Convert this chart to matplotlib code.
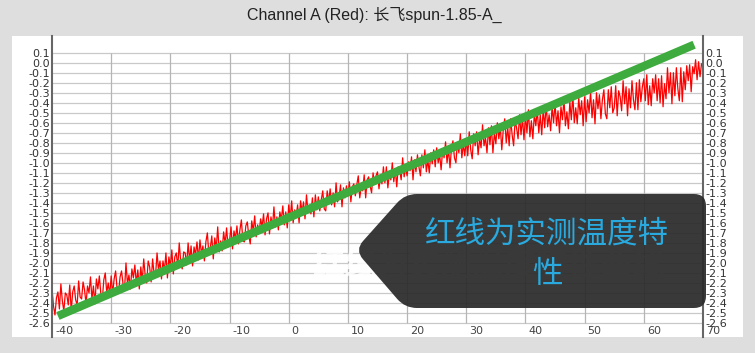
import numpy as np
import matplotlib
matplotlib.use('Agg')
import matplotlib.pyplot as plt
from matplotlib.path import Path
from matplotlib.patches import PathPatch, Rectangle

# chart texts
title_text = "Channel A (Red): 长飞spun-1.85-A_"
callout_text = "红线为实测温度特\n性"
watermark_text = "红线为实测温度特性曲线"

# axis ticks
x_ticks = [-40, -30, -20, -10, 0, 10, 20, 30, 40, 50, 60, 70]
y_ticks = np.round(np.arange(-2.6, 0.15, 0.1), 1)

# measured curve (red), read every 0.25 degree from -40 to 70
red_temp = np.arange(-40, 70.125, 0.25)
red_value = [
    -2.26, -2.43, -2.52, -2.35, -2.29, -2.46, -2.21, -2.38, -2.48, -2.30,
    -2.32, -2.42, -2.22, -2.48, -2.29, -2.23, -2.37, -2.42, -2.18, -2.34,
    -2.36, -2.19, -2.27, -2.41, -2.23, -2.30, -2.14, -2.36, -2.23, -2.41,
    -2.16, -2.26, -2.13, -2.31, -2.37, -2.17, -2.10, -2.30, -2.20, -2.32,
    -2.13, -2.31, -2.16, -2.08, -2.26, -2.30, -2.14, -2.08, -2.21, -2.27,
    -2.00, -2.21, -2.12, -2.26, -2.06, -2.15, -2.02, -2.21, -2.07, -2.26,
    -2.04, -2.18, -1.96, -2.13, -2.20, -1.98, -2.04, -2.19, -1.96, -2.11,
    -2.12, -1.90, -2.07, -1.98, -2.16, -1.98, -2.08, -1.90, -2.15, -1.94,
    -2.04, -1.87, -2.11, -1.94, -1.90, -2.04, -1.80, -1.99, -2.06, -1.89,
    -1.90, -2.02, -1.80, -1.98, -1.83, -2.03, -1.84, -1.92, -1.79, -1.97,
    -1.77, -1.91, -1.83, -1.98, -1.79, -1.70, -1.91, -1.85, -1.73, -1.96,
    -1.75, -1.86, -1.64, -1.89, -1.78, -1.88, -1.69, -1.81, -1.65, -1.84,
    -1.78, -1.64, -1.86, -1.68, -1.76, -1.63, -1.81, -1.67, -1.57, -1.78,
    -1.79, -1.63, -1.59, -1.73, -1.81, -1.58, -1.68, -1.53, -1.74, -1.62,
    -1.70, -1.56, -1.64, -1.51, -1.72, -1.56, -1.50, -1.71, -1.54, -1.65,
    -1.44, -1.64, -1.54, -1.67, -1.49, -1.57, -1.43, -1.62, -1.49, -1.65,
    -1.42, -1.56, -1.38, -1.60, -1.47, -1.54, -1.42, -1.60, -1.38, -1.49,
    -1.39, -1.56, -1.32, -1.49, -1.43, -1.51, -1.35, -1.54, -1.32, -1.47,
    -1.34, -1.48, -1.37, -1.28, -1.46, -1.48, -1.28, -1.39, -1.26, -1.42,
    -1.30, -1.44, -1.20, -1.39, -1.35, -1.22, -1.44, -1.25, -1.35, -1.23,
    -1.33, -1.19, -1.39, -1.24, -1.21, -1.33, -1.22, -1.13, -1.35, -1.24,
    -1.28, -1.12, -1.35, -1.17, -1.14, -1.23, -1.30, -1.10, -1.21, -1.13,
    -1.09, -1.26, -1.13, -1.21, -1.04, -1.20, -1.04, -1.25, -1.11, -1.17,
    -1.00, -1.19, -1.06, -1.24, -1.04, -1.07, -1.17, -0.95, -1.14, -1.04,
    -1.13, -0.99, -1.08, -0.94, -1.17, -0.97, -1.09, -0.92, -1.04, -1.13,
    -0.92, -1.05, -0.87, -1.09, -0.97, -1.10, -0.90, -1.01, -0.87, -1.04,
    -0.85, -1.00, -0.92, -1.07, -0.87, -0.95, -0.79, -1.00, -0.86, -1.05,
    -0.85, -0.78, -0.95, -1.00, -0.80, -0.90, -0.71, -0.95, -0.81, -0.93,
    -0.76, -0.93, -0.69, -0.87, -0.96, -0.71, -0.83, -0.69, -0.92, -0.76,
    -0.85, -0.62, -0.83, -0.75, -0.90, -0.65, -0.82, -0.63, -0.90, -0.70,
    -0.81, -0.60, -0.76, -0.64, -0.87, -0.67, -0.56, -0.80, -0.64, -0.83,
    -0.56, -0.72, -0.83, -0.58, -0.65, -0.76, -0.52, -0.72, -0.55, -0.77,
    -0.52, -0.70, -0.47, -0.74, -0.58, -0.76, -0.51, -0.63, -0.47, -0.70,
    -0.52, -0.72, -0.46, -0.65, -0.42, -0.64, -0.52, -0.68, -0.44, -0.60,
    -0.40, -0.63, -0.48, -0.70, -0.44, -0.57, -0.36, -0.63, -0.49, -0.66,
    -0.39, -0.57, -0.32, -0.60, -0.45, -0.61, -0.35, -0.52, -0.38, -0.63,
    -0.34, -0.59, -0.37, -0.50, -0.29, -0.55, -0.37, -0.61, -0.30, -0.46,
    -0.32, -0.56, -0.37, -0.27, -0.51, -0.56, -0.27, -0.45, -0.24, -0.50,
    -0.45, -0.23, -0.53, -0.28, -0.34, -0.48, -0.18, -0.41, -0.24, -0.53,
    -0.26, -0.45, -0.18, -0.37, -0.47, -0.20, -0.47, -0.17, -0.39, -0.24,
    -0.16, -0.38, -0.12, -0.42, -0.23, -0.43, -0.16, -0.30, -0.12, -0.38,
    -0.16, -0.40, -0.13, -0.44, -0.21, -0.36, -0.05, -0.30, -0.10, -0.41,
    -0.10, -0.33, -0.05, -0.26, -0.38, -0.05, -0.39, -0.09, -0.27, -0.03,
    -0.18, -0.02, -0.29, -0.04, -0.11, 0.03, -0.17, 0.01, -0.14, -0.01,
    -0.04,
]

# reference line (green)
fit_temp = [-39, 68.5]
fit_value = [-2.53, 0.18]

W, H = 755, 353


def rounded_polygon(pts, r):
    # pts in pixel coords (y down), returns Path in figure fraction
    verts, codes = [], []
    n = len(pts)
    for i in range(n):
        p0 = np.array(pts[i - 1], float)
        p1 = np.array(pts[i], float)
        p2 = np.array(pts[(i + 1) % n], float)
        d0 = (p0 - p1) / np.linalg.norm(p0 - p1)
        d2 = (p2 - p1) / np.linalg.norm(p2 - p1)
        verts.append(p1 + d0 * r)
        codes.append(Path.MOVETO if i == 0 else Path.LINETO)
        verts += [p1, p1 + d2 * r]
        codes += [Path.CURVE3, Path.CURVE3]
    verts.append(verts[0])
    codes.append(Path.CLOSEPOLY)
    verts = [(v[0] / W, 1 - v[1] / H) for v in verts]
    return Path(verts, codes)


fig = plt.figure(figsize=(W / 100, H / 100), dpi=100)
fig.patch.set_facecolor('#dedede')

# white panel behind the plot
fig.add_artist(Rectangle((12 / W, 1 - 337 / H), (743 - 12) / W, (337 - 36) / H,
                         transform=fig.transFigure, facecolor='white',
                         edgecolor='none', zorder=-1))

ax = fig.add_axes([52 / W, 1 - 337 / H, (703 - 52) / W, (337 - 36) / H])
ax.set_xlim(-40, 70)
ax.set_ylim(-2.74, 0.267)
ax.set_facecolor('white')

# grid
ax.hlines(y_ticks, -40, 70, color='#c9c9c9', linewidth=0.9, zorder=1)
ax.vlines(x_ticks[1:-1], y_ticks.min(), y_ticks.max(), color='#b5b5b5',
          linewidth=0.9, zorder=1)

ax.plot(red_temp, red_value, color='#ff0000', linewidth=0.9, zorder=2)
ax.plot(fit_temp, fit_value, color='#3dab3d', linewidth=6, zorder=3,
        solid_capstyle='butt')

for s in ['top', 'bottom']:
    ax.spines[s].set_visible(False)
for s in ['left', 'right']:
    ax.spines[s].set_color('#666666')
    ax.spines[s].set_linewidth(1.5)

ax.set_xticks([])
ax.set_yticks(y_ticks)
ax.set_yticklabels([f"{v:.1f}" for v in y_ticks])
ax.tick_params(axis='y', left=False, right=False, labelleft=True,
               labelright=True, length=0, pad=1.5, labelsize=8,
               labelcolor='#333333')
for xt in x_ticks:
    ax.text(xt + 0.5, -2.68, str(xt), ha='left', va='center', fontsize=8,
            color='#444444', clip_on=False)

fig.text(374 / W, 1 - 15 / H, title_text, ha='center', va='center',
         fontsize=11.5, color='#222222',
         family=['Liberation Sans', 'Noto Sans CJK SC'])

# faint watermark and callout box
fig.text(488 / W, 1 - 266 / H, watermark_text, ha='center', va='center',
         fontsize=23, color='white', alpha=0.85, fontweight='bold',
         family=['Noto Sans CJK SC'], zorder=4)

box = rounded_polygon([(355, 250), (405, 194), (706, 194), (706, 308), (405, 308)], 12)
fig.add_artist(PathPatch(box, transform=fig.transFigure, facecolor='#2a2a2a',
                         edgecolor='none', alpha=0.93, zorder=5))
fig.text(547 / W, 1 - 254 / H, callout_text, ha='center', va='center',
         multialignment='center', linespacing=1.38, fontsize=22,
         color='#29a9de', family=['Noto Sans CJK SC'], zorder=6)

fig.savefig('out.png', dpi=100, facecolor=fig.get_facecolor())
